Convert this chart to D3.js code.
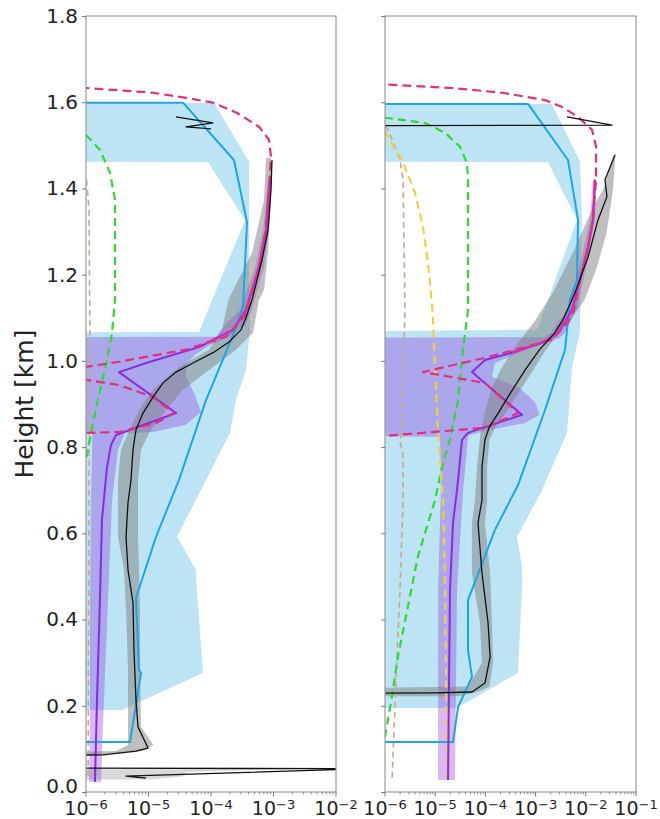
<!DOCTYPE html>
<html><head><meta charset="utf-8">
<script src="https://cdn.jsdelivr.net/npm/d3@7"></script>
<style>body{margin:0;background:#fff}svg{display:block}</style>
</head><body>
<script>
// ---------- DATA ----------
const Z = 1e-9; // stands for zero: off the left of the log axis
const heightTicks = [0,0.2,0.4,0.6,0.8,1.0,1.2,1.4,1.6,1.8];
const leftXTicks = [1e-6,1e-5,1e-4,1e-3,1e-2];
const rightXTicks = [1e-6,1e-5,1e-4,1e-3,1e-2,1e-1];
const yLabel = "Height [km]";

// ----- left panel -----
const L_blueH = [1.599,1.599,1.466,1.322,1.125,1.065,0.909,0.724,0.592,0.450,0.283,0.276,0.116,0.116];
const L_blueV = [Z,3.56e-5,2.33e-4,3.77e-4,3.25e-4,2.33e-4,8.32e-5,3.08e-5,1.32e-5,6.31e-6,7.05e-6,7.59e-6,5.06e-6,Z];
const L_blueBandHiH = [1.599,1.462,1.327,1.118,1.072,0.979,0.909,0.833,0.592,0.515,0.499,0.276,0.190];
const L_blueBandHiV = [1.12e-4,4.06e-4,4.06e-4,4.06e-4,4.21e-4,3.63e-4,2.51e-4,2.01e-4,2.86e-5,5.75e-5,5.75e-5,7.45e-5,3.77e-6];
const L_blueBandLoH = [1.599,1.463,1.461,1.327,1.067,1.066,0.190];
const L_blueBandLoV = [Z,Z,8.95e-5,3.50e-4,6.43e-5,Z,Z];

const L_purpleH = [1.420,1.304,1.218,1.118,1.072,1.032,0.998,0.974,0.879,0.828,0.805,0.754,0.631,0.445,0.213,0.023];
const L_purpleV = [8.79e-4,7.59e-4,5.86e-4,3.63e-4,2.25e-4,6.43e-5,1.06e-5,3.37e-6,2.75e-5,3.02e-6,2.51e-6,2.17e-6,1.80e-6,1.67e-6,1.50e-6,1.39e-6];
const L_pBandHiH = [1.420,1.304,1.218,1.118,1.084,1.054,1.037,1.014,0.991,0.963,0.921,0.882,0.852,0.835,0.833,0.794,0.677,0.445,0.213,0.023];
const L_pBandHiV = [9.46e-4,8.47e-4,7.05e-4,4.53e-4,3.50e-4,1.87e-4,9.64e-5,5.55e-5,4.0e-5,3.98e-5,5.55e-5,6.92e-5,3.98e-5,1.18e-5,4.21e-6,3.25e-6,2.61e-6,2.25e-6,1.94e-6,1.74e-6];
const L_pBandLoH = [1.420,1.304,1.218,1.118,1.084,1.056,1.054,0.835,0.833,0.794,0.677,0.445,0.213,0.023];
const L_pBandLoV = [8.17e-4,6.79e-4,5.06e-4,2.91e-4,1.67e-4,1.2e-4,Z,Z,1.25e-6,1.25e-6,1.20e-6,1.16e-6,1.16e-6,1.12e-6];

const L_magentaH = [1.420,1.304,1.218,1.118,1.072,1.040];
const L_magentaV = [8.79e-4,7.59e-4,5.86e-4,3.63e-4,2.25e-4,8.0e-5];

const L_pinkH = [1.636,1.633,1.622,1.610,1.599,1.575,1.543,1.513,1.473,1.404,1.304,1.218,1.105,1.056,1.026,0.998,0.986,0.972,0.956,0.944,0.916,0.879,0.856,0.835,0.833,0.830];
const L_pinkV = [Z,1.0e-6,1.18e-5,3.98e-5,1.08e-4,2.63e-4,5.86e-4,8.47e-4,9.12e-4,8.47e-4,7.59e-4,5.86e-4,3.5e-4,1.74e-4,3.98e-5,3.37e-6,1.0e-6,Z,1.0e-6,3.37e-6,1.18e-5,2.56e-5,1.32e-5,3.37e-6,1.0e-6,Z];

const L_greenH = [1.524,1.490,1.436,1.374,1.142,1.065,1.002,0.909,0.833,0.770];
const L_greenV = [1.0e-6,1.67e-6,2.42e-6,2.91e-6,2.91e-6,2.61e-6,2.17e-6,1.55e-6,1.2e-6,1.0e-6];

const L_tanH = [1.420,1.35,1.0,0.8,0.4,0.028];
const L_tanV = [1.02e-6,1.12e-6,1.16e-6,1.12e-6,1.10e-6,1.08e-6];

const L_blackH = [1.466,1.397,1.304,1.234,1.188,1.142,1.100,1.072,1.044,1.019,0.995,0.974,0.949,0.916,0.879,0.840,0.794,0.724,0.671,0.592,0.515,0.439,0.329,0.213,0.151,0.102,0.095,0.086,0.084,0.056,0.054,0.037,0.032];
const L_blackV = [9.46e-4,9.12e-4,8.17e-4,6.55e-4,5.45e-4,4.53e-4,3.63e-4,3.02e-4,1.94e-4,1.08e-4,5.15e-5,2.75e-5,1.71e-5,1.18e-5,8.17e-6,6.31e-6,5.65e-6,5.25e-6,4.70e-6,4.37e-6,4.70e-6,5.65e-6,5.86e-6,6.31e-6,6.79e-6,9.82e-6,6.31e-6,1.87e-6,Z,Z,3e-2,4.37e-6,9.12e-6];
const L_blackTopH = [1.566,1.552,1.543,1.538];
const L_blackTopV = [2.75e-5,1.07e-4,3.98e-5,1.0e-4];

const L_grayHiH = [1.471,1.374,1.251,1.165,1.142,1.065,1.026,0.986,0.933,0.886,0.833,0.794,0.724,0.592,0.515,0.422,0.283,0.151,0.109,0.095,0.088];
const L_grayHiV = [9.12e-4,9.12e-4,8.17e-4,7.05e-4,5.86e-4,4.70e-4,2.51e-4,1.08e-4,3.56e-5,1.91e-5,1.02e-5,7.59e-6,6.79e-6,6.79e-6,7.05e-6,7.31e-6,7.31e-6,7.6e-6,1.2e-5,8e-6,3e-6];
const L_grayLoH = [1.471,1.374,1.251,1.142,1.072,1.026,0.986,0.933,0.886,0.833,0.794,0.724,0.592,0.515,0.422,0.283,0.151,0.109,0.095,0.088];
const L_grayLoV = [7.59e-4,7.05e-4,4.53e-4,1.9e-4,1.5e-4,9.29e-5,3.08e-5,1.18e-5,7.05e-6,4.70e-6,3.63e-6,3.25e-6,3.25e-6,4.06e-6,4.37e-6,4.7e-6,4.7e-6,4.7e-6,3e-6,Z];
const L_grayLowHiH = [0.053,0.046,0.036,0.029];
const L_grayLowHiV = [1e-3,4e-5,3.5e-5,1e-5];
const L_grayLowLoH = [0.053,0.029];
const L_grayLowLoV = [Z,Z];

// ----- right panel -----
const R_blueH = [1.596,1.596,1.466,1.327,1.188,1.142,1.026,0.886,0.712,0.608,0.445,0.329,0.267,0.197,0.116,0.116];
const R_blueV = [Z,7.06e-4,4.42e-3,7.00e-3,6.68e-3,4.84e-3,3.86e-3,1.54e-3,4.46e-4,1.55e-4,4.5e-5,4.5e-5,5.41e-5,2.85e-5,2.26e-5,Z];
const R_blueBandHiH = [1.596,1.462,1.327,1.142,1.065,0.986,0.833,0.694,0.592,0.522,0.476,0.276,0.206,0.195];
const R_blueBandHiV = [2.12e-3,7.66e-3,8.4e-3,7.8e-3,7.6e-3,5.31e-3,4.22e-3,1.27e-3,4.26e-4,5.36e-4,5.36e-4,4.46e-4,3.93e-5,2.48e-5];
const R_blueBandLoH = [1.596,1.463,1.461,1.327,1.072,1.067,0.195];
const R_blueBandLoV = [Z,Z,1.77e-3,6.68e-3,1.07e-3,Z,Z];

const R_purpleH = [1.420,1.327,1.265,1.188,1.118,1.065,1.042,1.019,1.002,0.974,0.875,0.833,0.817,0.770,0.701,0.624,0.469,0.028];
const R_purpleV = [1.52e-2,1.39e-2,1.11e-2,7.66e-3,5.31e-3,2.79e-3,1.34e-3,3.39e-4,9.82e-5,5.41e-5,5.36e-4,4.5e-5,3.42e-5,3.12e-5,2.72e-5,2.26e-5,1.97e-5,1.80e-5];
const R_pBandHiH = [1.420,1.327,1.188,1.118,1.065,1.053,1.030,0.995,0.963,0.940,0.905,0.875,0.856,0.840,0.828,0.824,0.700,0.469,0.028];
const R_pBandHiV = [1.60e-2,1.52e-2,9.0e-3,6.5e-3,3.8e-3,3.0e-3,7.7e-4,1.55e-4,1.35e-4,4.46e-4,9.7e-4,1.2e-3,6.15e-4,1.24e-4,4.9e-5,4.5e-5,3.6e-5,2.72e-5,2.48e-5];
const R_pBandLoH = [1.420,1.327,1.188,1.118,1.065,1.055,1.053,0.828,0.824,0.700,0.469,0.028];
const R_pBandLoV = [1.39e-2,1.2e-2,6.5e-3,4.2e-3,2.0e-3,1.5e-3,Z,Z,1.25e-5,1.3e-5,1.14e-5,1.14e-5];

const R_magentaH = [1.420,1.327,1.265,1.188,1.118,1.065,1.042,1.019];
const R_magentaV = [1.52e-2,1.39e-2,1.11e-2,7.66e-3,5.31e-3,2.79e-3,1.34e-3,3.39e-4];

const R_pinkH = [1.645,1.641,1.633,1.622,1.605,1.589,1.566,1.536,1.497,1.420,1.327,1.265,1.188,1.118,1.088,1.049,1.007,0.974,0.949,0.879,0.845,0.826,0.823];
const R_pinkV = [Z,1.0e-6,2.16e-5,2.14e-4,1.54e-3,3.36e-3,7.0e-3,1.33e-2,1.60e-2,1.60e-2,1.39e-2,1.11e-2,7.66e-3,5.8e-3,4.3e-3,2.12e-3,9.82e-5,5.71e-6,9.82e-5,4.46e-4,9.82e-5,1.0e-6,Z];

const R_greenH = [1.564,1.552,1.529,1.497,1.459,1.420,1.118,1.026,0.909,0.817,0.754,0.677,0.547,0.431,0.315,0.223,0.128];
const R_greenV = [1.0e-6,6.26e-6,1.57e-5,3.12e-5,4.30e-5,4.50e-5,4.50e-5,3.58e-5,2.85e-5,1.97e-5,1.37e-5,9.91e-6,4.54e-6,2.87e-6,1.82e-6,1.38e-6,1.0e-6];

const R_yellowH = [1.535,1.517,1.466,1.390,1.311,1.227,1.120,0.986,0.833,0.677,0.469,0.028];
const R_yellowV = [1.0e-6,1.15e-6,2.18e-6,3.96e-6,5.71e-6,7.19e-6,8.8e-6,9.91e-6,1.14e-5,1.43e-5,1.57e-5,1.72e-5];

const R_tanH = [1.545,1.536,1.466,1.420,1.118,0.963,0.825,0.812,0.780,0.677,0.469,0.315,0.028];
const R_tanV = [1.0e-6,1.15e-6,1.99e-6,2.29e-6,2.50e-6,2.29e-6,2.1e-6,1.99e-6,2.29e-6,2.29e-6,1.99e-6,1.73e-6,1.38e-6];

const R_blackH = [1.478,1.420,1.381,1.327,1.241,1.158,1.095,1.065,1.026,0.979,0.916,0.879,0.847,0.817,0.754,0.677,0.624,0.508,0.392,0.313,0.253,0.232,0.230,0.227];
const R_blackV = [3.82e-2,2.41e-2,2.64e-2,1.75e-2,1.11e-2,6.09e-3,3.5e-3,2.4e-3,1.2e-3,6.2e-4,2.8e-4,1.8e-4,1.2e-4,9.8e-5,8.55e-5,8.55e-5,7.13e-5,8.55e-5,1.13e-4,1.24e-4,9.82e-5,5.41e-5,9.91e-6,Z];
const R_blackTopH = [1.566,1.547,1.545];
const R_blackTopV = [4.22e-3,3.33e-2,Z];

const R_grayHiH = [1.476,1.397,1.297,1.218,1.142,1.095,1.065,1.026,0.979,0.933,0.886,0.847,0.817,0.754,0.677,0.624,0.508,0.392,0.299,0.245,0.232,0.222];
const R_grayHiV = [3.9e-2,3.48e-2,2.6e-2,1.67e-2,9.5e-3,5.0e-3,3.0e-3,1.6e-3,9.0e-4,5.0e-4,2.8e-4,1.6e-4,1.2e-4,1.08e-4,1.08e-4,9.8e-5,1.24e-4,1.35e-4,1.42e-4,1.2e-4,7e-5,3e-5];
const R_grayLoH = [1.476,1.397,1.357,1.251,1.158,1.095,1.026,0.979,0.933,0.886,0.833,0.754,0.677,0.624,0.508,0.392,0.299,0.245,0.236,0.222];
const R_grayLoV = [3.6e-2,2.2e-2,1.4e-2,5.5e-3,2.2e-3,1.0e-3,3.5e-4,2.0e-4,1.3e-4,1.0e-4,8.0e-5,6.8e-5,6.2e-5,5.4e-5,5.4e-5,7.8e-5,8.5e-5,4.5e-5,Z,Z];

// ---------- DRAWING ----------
const W = 660, H = 819;
const svg = d3.select("body").append("svg").attr("width", W).attr("height", H)
  .style("font-family", "'DejaVu Sans', sans-serif");

const y = d3.scaleLinear().domain([0, 1.8]).range([792, 16]);
const pts = (hs, vs) => hs.map((h, i) => [vs[i], h]);
const band = (hH, hV, lH, lV) => pts(hH, hV).concat(pts(lH, lV).reverse());

const panels = [
  { id: "L", x: d3.scaleLog().domain([1e-6, 1e-2]).range([86, 336]), xticks: leftXTicks, ylabels: true,
    bands: [
      { p: band(L_blueBandHiH, L_blueBandHiV, L_blueBandLoH, L_blueBandLoV), fill: "#87CEEB", op: 0.55 },
      { p: band(L_pBandHiH, L_pBandHiV, L_pBandLoH, L_pBandLoV), fill: "#8A2BE2", op: 0.33 },
      { p: band(L_grayHiH, L_grayHiV, L_grayLoH, L_grayLoV), fill: "#808080", op: 0.5 },
      { p: band(L_grayLowHiH, L_grayLowHiV, L_grayLowLoH, L_grayLowLoV), fill: "#808080", op: 0.3 }
    ],
    lines: [
      { p: pts(L_tanH, L_tanV), c: "#C9A88A", w: 1.6, d: "6,4" },
      { p: pts(L_greenH, L_greenV), c: "#2EDB2E", w: 2.2, d: "8,5" },
      { p: pts(L_blueH, L_blueV), c: "#1BA6E6", w: 2 },
      { p: pts(L_purpleH, L_purpleV), c: "#8A2BE2", w: 2 },
      { p: pts(L_magentaH, L_magentaV), c: "#DD22C8", w: 2 },
      { p: pts(L_pinkH, L_pinkV), c: "#E62E7B", w: 2.2, d: "9,5" },
      { p: pts(L_blackH, L_blackV), c: "#111", w: 1.3 },
      { p: pts(L_blackTopH, L_blackTopV), c: "#111", w: 1.3 }
    ] },
  { id: "R", x: d3.scaleLog().domain([1e-6, 1e-1]).range([385, 636]), xticks: rightXTicks, ylabels: false,
    bands: [
      { p: band(R_blueBandHiH, R_blueBandHiV, R_blueBandLoH, R_blueBandLoV), fill: "#87CEEB", op: 0.55 },
      { p: band(R_pBandHiH, R_pBandHiV, R_pBandLoH, R_pBandLoV), fill: "#8A2BE2", op: 0.33 },
      { p: band(R_grayHiH, R_grayHiV, R_grayLoH, R_grayLoV), fill: "#808080", op: 0.5 }
    ],
    lines: [
      { p: pts(R_tanH, R_tanV), c: "#C9A88A", w: 1.6, d: "6,4" },
      { p: pts(R_greenH, R_greenV), c: "#2EDB2E", w: 2.2, d: "8,5" },
      { p: pts(R_yellowH, R_yellowV), c: "#F0D03C", w: 2.2, d: "8,5" },
      { p: pts(R_blueH, R_blueV), c: "#1BA6E6", w: 2 },
      { p: pts(R_purpleH, R_purpleV), c: "#8A2BE2", w: 2 },
      { p: pts(R_magentaH, R_magentaV), c: "#DD22C8", w: 2 },
      { p: pts(R_pinkH, R_pinkV), c: "#E62E7B", w: 2.2, d: "9,5" },
      { p: pts(R_blackH, R_blackV), c: "#111", w: 1.3 },
      { p: pts(R_blackTopH, R_blackTopV), c: "#111", w: 1.3 }
    ] }
];

panels.forEach(P => {
  const x = P.x;
  const [x0, x1] = x.range();
  const [yb, yt] = y.range();
  const g = svg.append("g");
  const clipId = "clip" + P.id;
  svg.append("clipPath").attr("id", clipId).append("rect")
    .attr("x", x0).attr("y", yt).attr("width", x1 - x0).attr("height", yb - yt);
  const plot = g.append("g").attr("clip-path", `url(#${clipId})`);
  const line = d3.line().x(d => x(d[0])).y(d => y(d[1]));

  P.bands.forEach(b => {
    plot.append("path").attr("d", line(b.p) + "Z")
      .attr("fill", b.fill).attr("fill-opacity", b.op).attr("stroke", "none");
  });
  P.lines.forEach(l => {
    plot.append("path").attr("d", line(l.p)).attr("fill", "none")
      .attr("stroke", l.c).attr("stroke-width", l.w)
      .attr("stroke-dasharray", l.d || null)
      .attr("stroke-linejoin", "round");
  });

  // frame
  g.append("rect").attr("x", x0).attr("y", yt).attr("width", x1 - x0).attr("height", yb - yt)
    .attr("fill", "none").attr("stroke", "#9a9a9a").attr("stroke-width", 1.2);

  // y ticks
  const yAxis = d3.axisLeft(y).tickValues(heightTicks).tickSize(4).tickPadding(4)
    .tickFormat(P.ylabels ? d3.format(".1f") : "");
  const ya = g.append("g").attr("transform", `translate(${x0},0)`).call(yAxis);
  ya.select(".domain").remove();
  ya.selectAll(".tick line").attr("stroke", "#777");
  ya.selectAll(".tick text").attr("font-size", 20).attr("fill", "#222")
    .attr("font-family", "'DejaVu Sans', sans-serif");
  if (P.ylabels) ya.selectAll(".tick text").filter(d => d === 0).attr("dy", "0em");

  // x minor / major ticks
  const minor = x.ticks().filter(v => !P.xticks.some(t => Math.abs(t - v) / t < 1e-9));
  const xa = g.append("g").attr("transform", `translate(0,${yb})`);
  xa.selectAll("line.minor").data(minor).join("line")
    .attr("x1", d => x(d)).attr("x2", d => x(d)).attr("y1", 0).attr("y2", 2.5)
    .attr("stroke", "#777").attr("stroke-width", 0.8);
  xa.selectAll("line.major").data(P.xticks).join("line")
    .attr("x1", d => x(d)).attr("x2", d => x(d)).attr("y1", 0).attr("y2", 4.5)
    .attr("stroke", "#777").attr("stroke-width", 1);
  const lab = xa.selectAll("text.xl").data(P.xticks).join("text")
    .attr("x", d => x(d)).attr("y", 23).attr("text-anchor", "middle")
    .attr("fill", "#222").attr("font-size", 19);
  lab.append("tspan").text("10");
  lab.append("tspan").attr("dy", -6).attr("font-size", 13)
    .text(d => String(Math.round(Math.log10(d))).replace("-", "\u2212"));
});

svg.append("text").attr("transform", "translate(33,404) rotate(-90)")
  .attr("text-anchor", "middle").attr("font-size", 25).attr("fill", "#222").text(yLabel);
</script>
</body></html>
